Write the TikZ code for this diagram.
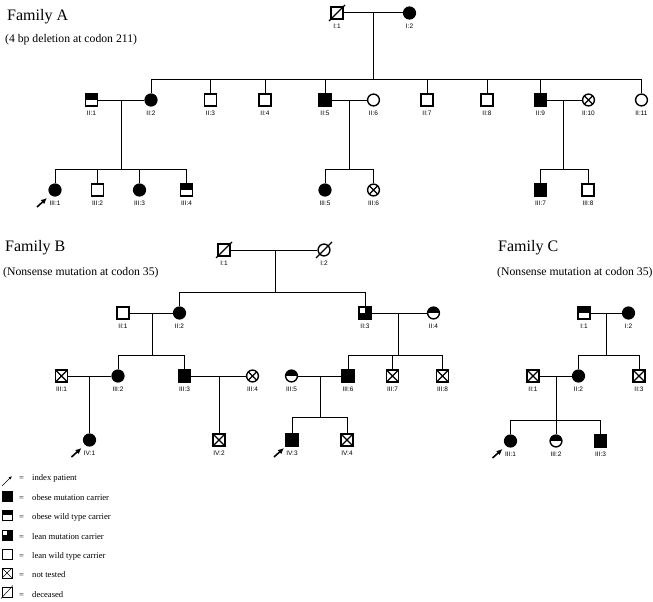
\documentclass[tikz,border=0pt]{standalone}
\usepackage{fontspec}
\setmainfont{Liberation Serif}
\newfontfamily\labfont{Liberation Sans}
\usetikzlibrary{arrows.meta,calc}

\tikzset{
  sym/.style={draw, inner sep=0pt, line width=1.4pt, minimum size=11.8pt},
  male/.style={sym, rectangle},
  female/.style={sym, circle},
  aff/.style={fill=black},
  obesewt/.style={path picture={\fill (path picture bounding box.north west) rectangle (path picture bounding box.east);}},
  leanmut/.style={fill=black, path picture={\fill[white] (path picture bounding box.north west) rectangle (path picture bounding box.center);}},
  untested/.style={path picture={\draw[line width=1.3pt] (path picture bounding box.north west) -- (path picture bounding box.south east) (path picture bounding box.north east) -- (path picture bounding box.south west);}},
  lab/.style={font=\labfont\fontsize{6.5}{7}\selectfont, inner sep=0pt},
  id/.style={label={[lab, label distance=4.3pt]below:{#1}}},
  line/.style={line width=1pt},
  index/.style={line width=1.6pt, -{Latex[length=6pt,width=5.5pt]}},
  title/.style={font=\fontsize{16}{18}\selectfont, anchor=base west, inner sep=0pt},
  sub/.style={font=\fontsize{11.7}{13}\selectfont, anchor=base west, inner sep=0pt},
  lgsym/.style={draw, rectangle, inner sep=0pt, minimum size=10pt, line width=0.5pt},
  lgtext/.style={font=\fontsize{8.6}{10}\selectfont, anchor=base west, inner sep=0pt},
}

\begin{document}
\begin{tikzpicture}[x=1pt,y=-1pt]
\useasboundingbox (0,0) rectangle (653,602);

% Family A
\node[title] (famA) at (7,20.7) {Family A};
\node[sub] (mutA) at (5,42.5) {(4 bp deletion at codon 211)};
\node[male, id={I:1}] (AI1) at (337,13) {};
\node[female, aff, id={I:2}] (AI2) at (409.5,13) {};
\node[male, obesewt, id={II:1}] (AII1) at (91.5,100) {};
\node[female, aff, id={II:2}] (AII2) at (151,100) {};
\node[male, id={II:3}] (AII3) at (210.5,100) {};
\node[male, id={II:4}] (AII4) at (265,100) {};
\node[male, aff, id={II:5}] (AII5) at (325,100) {};
\node[female, id={II:6}] (AII6) at (373.5,100) {};
\node[male, id={II:7}] (AII7) at (427,100) {};
\node[male, id={II:8}] (AII8) at (487,100) {};
\node[male, aff, id={II:9}] (AII9) at (540.5,100) {};
\node[female, untested, id={II:10}] (AII10) at (588.5,100) {};
\node[female, id={II:11}] (AII11) at (641.5,100) {};
\node[female, aff, id={III:1}] (AIII1) at (55,190) {};
\node[male, id={III:2}] (AIII2) at (97.5,190) {};
\node[female, aff, id={III:3}] (AIII3) at (139.5,190) {};
\node[male, obesewt, id={III:4}] (AIII4) at (186.5,190) {};
\node[female, aff, id={III:5}] (AIII5) at (325,190) {};
\node[female, untested, id={III:6}] (AIII6) at (373.5,190) {};
\node[male, aff, id={III:7}] (AIII7) at (540.5,190) {};
\node[male, id={III:8}] (AIII8) at (588,190) {};

\draw[line] (AI1) -- (AI2);
\draw[line width=1.1pt] ($(AI1)+(-8,8)$) -- ($(AI1)+(8,-8)$);
\coordinate (Am) at (373,13);
\coordinate (As) at (373,79);
\draw[line] (Am) -- (As);
\draw[line] (AII2 |- As) -- (AII11 |- As);
\foreach \c in {AII2,AII3,AII4,AII5,AII7,AII8,AII9,AII11}
  \draw[line] (\c |- As) -- (\c);

\draw[line] (AII1) -- (AII2);
\coordinate (A1m) at (121,100);
\coordinate (A1s) at (121,169);
\draw[line] (A1m) -- (A1s);
\draw[line] (AIII1 |- A1s) -- (AIII4 |- A1s);
\foreach \c in {AIII1,AIII2,AIII3,AIII4}
  \draw[line] (\c |- A1s) -- (\c);

\draw[line] (AII5) -- (AII6);
\coordinate (A2m) at (349,100);
\coordinate (A2s) at (349,169);
\draw[line] (A2m) -- (A2s);
\draw[line] (AIII5 |- A2s) -- (AIII6 |- A2s);
\foreach \c in {AIII5,AIII6}
  \draw[line] (\c |- A2s) -- (\c);

\draw[line] (AII9) -- (AII10);
\coordinate (A3m) at (563,100);
\coordinate (A3s) at (563,169);
\draw[line] (A3m) -- (A3s);
\draw[line] (AIII7 |- A3s) -- (AIII8 |- A3s);
\foreach \c in {AIII7,AIII8}
  \draw[line] (\c |- A3s) -- (\c);

% Family B
\node[title] (famB) at (5,251) {Family B};
\node[sub] (mutB) at (3,275) {(Nonsense mutation at codon 35)};
\node[male, id={I:1}] (BI1) at (224,250) {};
\node[female, id={I:2}] (BI2) at (324,250) {};
\node[male, id={II:1}] (BII1) at (123,313) {};
\node[female, aff, id={II:2}] (BII2) at (179.5,313) {};
\node[male, leanmut, id={II:3}] (BII3) at (365,313) {};
\node[female, obesewt, id={II:4}] (BII4) at (433.5,313) {};
\node[male, untested, id={III:1}] (BIII1) at (61.5,376) {};
\node[female, aff, id={III:2}] (BIII2) at (118,376) {};
\node[male, aff, id={III:3}] (BIII3) at (184.5,376) {};
\node[female, untested, id={III:4}] (BIII4) at (252.5,376) {};
\node[female, obesewt, id={III:5}] (BIII5) at (291.5,376) {};
\node[male, aff, id={III:6}] (BIII6) at (348,376) {};
\node[male, untested, id={III:7}] (BIII7) at (392.5,376) {};
\node[male, untested, id={III:8}] (BIII8) at (442.5,376) {};
\node[female, aff, id={IV:1}] (BIV1) at (89.5,440) {};
\node[male, untested, id={IV:2}] (BIV2) at (219,440) {};
\node[male, aff, id={IV:3}] (BIV3) at (292,440) {};
\node[male, untested, id={IV:4}] (BIV4) at (347,440) {};

\draw[line] (BI1) -- (BI2);
\draw[line width=1.1pt] ($(BI1)+(-8,8)$) -- ($(BI1)+(8,-8)$);
\draw[line width=1.1pt] ($(BI2)+(-8,8)$) -- ($(BI2)+(8,-8)$);
\coordinate (Bm) at (275,250);
\coordinate (Bs) at (275,292);
\draw[line] (Bm) -- (Bs);
\draw[line] (BII2 |- Bs) -- (BII3 |- Bs);
\foreach \c in {BII2,BII3}
  \draw[line] (\c |- Bs) -- (\c);

\draw[line] (BII1) -- (BII2);
\coordinate (B1m) at (152,313);
\coordinate (B1s) at (152,355);
\draw[line] (B1m) -- (B1s);
\draw[line] (BIII2 |- B1s) -- (BIII3 |- B1s);
\foreach \c in {BIII2,BIII3}
  \draw[line] (\c |- B1s) -- (\c);

\draw[line] (BII3) -- (BII4);
\coordinate (B2m) at (398,313);
\coordinate (B2s) at (398,355);
\draw[line] (B2m) -- (B2s);
\draw[line] (BIII6 |- B2s) -- (BIII8 |- B2s);
\foreach \c in {BIII6,BIII7,BIII8}
  \draw[line] (\c |- B2s) -- (\c);

\draw[line] (BIII1) -- (BIII2);
\draw[line] (BIV1 |- BIII1) -- (BIV1);
\draw[line] (BIII3) -- (BIII4);
\draw[line] (BIV2 |- BIII3) -- (BIV2);

\draw[line] (BIII5) -- (BIII6);
\coordinate (B4m) at (320,376);
\coordinate (B4s) at (320,417);
\draw[line] (B4m) -- (B4s);
\draw[line] (BIV3 |- B4s) -- (BIV4 |- B4s);
\foreach \c in {BIV3,BIV4}
  \draw[line] (\c |- B4s) -- (\c);

% Family C
\node[title] (famC) at (498,251) {Family C};
\node[sub] (mutC) at (497,275) {(Nonsense mutation at codon 35)};
\node[male, obesewt, id={I:1}] (CI1) at (584,313) {};
\node[female, aff, id={I:2}] (CI2) at (628.5,313) {};
\node[male, untested, id={II:1}] (CII1) at (533,376) {};
\node[female, aff, id={II:2}] (CII2) at (578.5,376) {};
\node[male, untested, id={II:3}] (CII3) at (639,376) {};
\node[female, aff, id={III:1}] (CIII1) at (510.5,441) {};
\node[female, obesewt, id={III:2}] (CIII2) at (556,441) {};
\node[male, aff, id={III:3}] (CIII3) at (600.5,441) {};

\draw[line] (CI1) -- (CI2);
\coordinate (Cm) at (606,313);
\coordinate (Cs) at (606,355);
\draw[line] (Cm) -- (Cs);
\draw[line] (CII2 |- Cs) -- (CII3 |- Cs);
\foreach \c in {CII2,CII3}
  \draw[line] (\c |- Cs) -- (\c);

\draw[line] (CII1) -- (CII2);
\coordinate (C1m) at (556,376);
\coordinate (C1s) at (556,420);
\draw[line] (C1m) -- (C1s);
\draw[line] (CIII1 |- C1s) -- (CIII3 |- C1s);
\foreach \c in {CIII1,CIII2,CIII3}
  \draw[line] (\c |- C1s) -- (\c);

% index patients
\foreach \p in {AIII1,BIV1,BIV3,CIII1}
  \draw[index] ($(\p)+(-18,17)$) -- ($(\p)+(-8,8)$);

% legend
\coordinate (lgTail) at (2,486);
\coordinate (lgHead) at (12,476);
\draw[line width=0.6pt, -{Latex[length=3.5pt,width=3pt]}] (lgTail) -- (lgHead);
\node[lgsym, fill=black] (lgObese) at (7,496) {};
\node[lgsym, obesewt] (lgObeseWt) at (7,515) {};
\node[lgsym, leanmut] (lgLean) at (7,535) {};
\node[lgsym] (lgLeanWt) at (7,554) {};
\node[lgsym, path picture={\draw[line width=0.5pt] (path picture bounding box.north west) -- (path picture bounding box.south east) (path picture bounding box.north east) -- (path picture bounding box.south west);}] (lgUntested) at (7,573) {};
\node[lgsym] (lgDead) at (7,592) {};
\draw[line width=0.5pt] ($(lgDead)+(-6,6.5)$) -- ($(lgDead)+(6,-6.5)$);

\foreach \t/\y in {index patient/480, obese mutation carrier/500, obese wild type carrier/519, lean mutation carrier/539, lean wild type carrier/558, not tested/577, deceased/597} {
  \node[lgtext] at (19,\y) {=};
  \node[lgtext] at (32,\y) {\t};
}
\end{tikzpicture}
\end{document}
